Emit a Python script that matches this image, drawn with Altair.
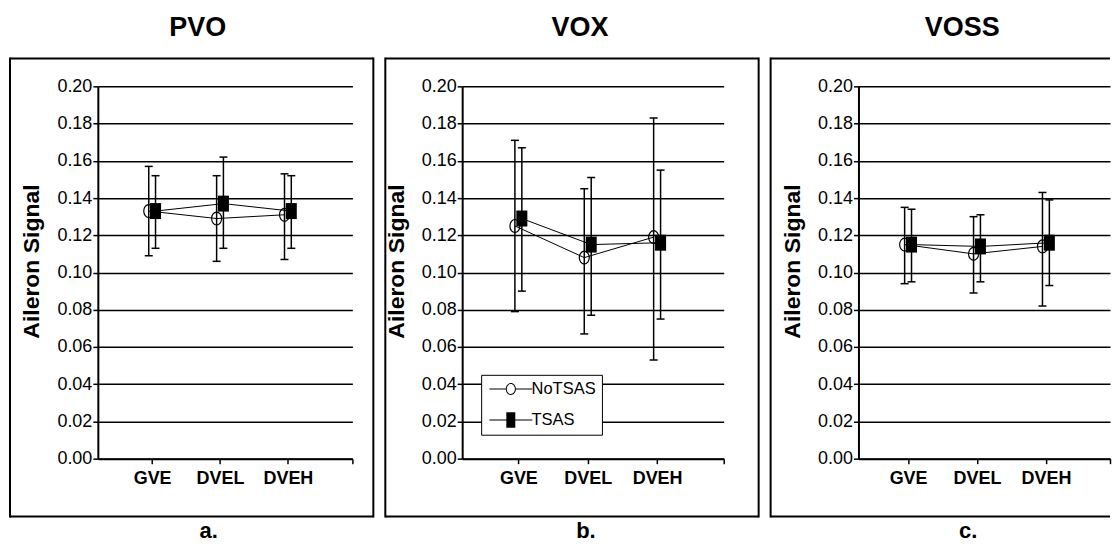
import altair as alt
import pandas as pd

categories = ["GVE", "DVEL", "DVEH"]
series_names = ["NoTSAS", "TSAS"]
panel_titles = ["PVO", "VOX", "VOSS"]
panel_letters = ["a.", "b.", "c."]
y_ticks = [0.00, 0.02, 0.04, 0.06, 0.08, 0.10, 0.12, 0.14, 0.16, 0.18, 0.20]

# PVO
pvo_notsas_mean = [0.133, 0.129, 0.131]
pvo_notsas_low = [0.109, 0.106, 0.107]
pvo_notsas_high = [0.157, 0.152, 0.153]
pvo_tsas_mean = [0.133, 0.137, 0.133]
pvo_tsas_low = [0.113, 0.113, 0.113]
pvo_tsas_high = [0.152, 0.162, 0.152]
# VOX
vox_notsas_mean = [0.125, 0.108, 0.119]
vox_notsas_low = [0.079, 0.067, 0.053]
vox_notsas_high = [0.171, 0.145, 0.183]
vox_tsas_mean = [0.129, 0.115, 0.116]
vox_tsas_low = [0.090, 0.077, 0.075]
vox_tsas_high = [0.167, 0.151, 0.155]
# VOSS
voss_notsas_mean = [0.115, 0.110, 0.114]
voss_notsas_low = [0.094, 0.089, 0.082]
voss_notsas_high = [0.135, 0.130, 0.143]
voss_tsas_mean = [0.115, 0.114, 0.116]
voss_tsas_low = [0.095, 0.095, 0.093]
voss_tsas_high = [0.134, 0.131, 0.139]

FONT = "Liberation Sans, Arial, sans-serif"
H = 373


def make_df(nm, nl, nh, tm, tl, th):
    rows = []
    for i, c in enumerate(categories):
        rows.append(dict(cat=c, idx=i + 1, series=series_names[0], mean=nm[i], low=nl[i], high=nh[i]))
    for i, c in enumerate(categories):
        rows.append(dict(cat=c, idx=i + 1, series=series_names[1], mean=tm[i], low=tl[i], high=th[i]))
    return pd.DataFrame(rows)


label_expr = " : ".join(f"datum.value == {i + 1} ? '{c}'" for i, c in enumerate(categories)) + " : ''"

ELLIPSE = "M0,-1 A0.77,1 0 1,1 0,1 A0.77,1 0 1,1 0,-1 Z"
RECT = "M-0.69,-1 L0.69,-1 L0.69,1 L-0.69,1 Z"
LEG_NO = ("M-1,-0.09 L1.73,-0.09 L1.73,0.09 L-1,0.09 Z "
          "M3.43,-0.09 L6.17,-0.09 L6.17,0.09 L3.43,0.09 Z "
          "M2.58,-1 A0.85,1 0 1,1 2.58,1 A0.85,1 0 1,1 2.58,-1 Z "
          "M2.58,-0.83 A0.68,0.83 0 1,0 2.58,0.83 A0.68,0.83 0 1,0 2.58,-0.83 Z")
LEG_TS = ("M-1,-0.09 L6.17,-0.09 L6.17,0.09 L-1,0.09 Z "
          "M1.83,-1.3 L3.33,-1.3 L3.33,1.3 L1.83,1.3 Z")


def panel(df, title, letter, w, xdom, fl, fr, tdx, ldx, right_side=True, with_legend=False):
    xaxis = alt.Axis(values=[1, 2, 3, xdom[1]], labelExpr=label_expr, title=None, grid=False,
                     domainColor="black", domainWidth=2, tickColor="black", tickWidth=1.5,
                     tickSize=5, labelFont=FONT, labelFontSize=18, labelFontWeight="bold",
                     labelColor="black", labelPadding=6)
    yaxis = alt.Axis(values=y_ticks, format=".2f", title="Aileron Signal", grid=True,
                     gridColor="black", gridWidth=1.5, gridOpacity=1, domainColor="black",
                     domainWidth=2, tickColor="black", tickWidth=1.5, tickSize=5,
                     labelFont=FONT, labelFontSize=18, labelColor="black", labelPadding=1,
                     titleFont=FONT, titleFontSize=23, titleFontWeight="bold", titleColor="black",
                     titleX=-66, titleY=175, titleAngle=270, titleAlign="center",
                     titleBaseline="middle")
    xs = alt.Scale(domain=xdom, nice=False, zero=False)
    ys = alt.Scale(domain=[0, 0.2], nice=False, zero=True)
    X = alt.X("xp:Q", scale=xs, axis=xaxis)
    Ym = alt.Y("mean:Q", scale=ys, axis=yaxis)
    Yl = alt.Y("low:Q", scale=ys, axis=yaxis)
    Yh = alt.Y("high:Q", scale=ys, axis=yaxis)
    base = alt.Chart(df).transform_calculate(
        xp="datum.idx + (datum.series == 'NoTSAS' ? -0.05 : 0.05)")
    lines = base.mark_line(color="black", strokeWidth=1).encode(x=X, y=Ym, detail="series:N")
    bars = base.mark_rule(color="black", strokeWidth=1.5).encode(x=X, y=Yl, y2="high:Q")
    caps_lo = base.mark_tick(orient="horizontal", size=8, thickness=1.5, color="black",
                             opacity=1).encode(x=X, y=Yl)
    caps_hi = base.mark_tick(orient="horizontal", size=8, thickness=1.5, color="black",
                             opacity=1).encode(x=X, y=Yh)
    circles = base.transform_filter("datum.series == 'NoTSAS'").mark_point(
        shape=ELLIPSE, size=169, filled=False, color="black", strokeWidth=1.2, opacity=1
    ).encode(x=X, y=Ym)
    squares = base.transform_filter("datum.series == 'TSAS'").mark_point(
        shape=RECT, size=256, filled=True, color="black", opacity=1
    ).encode(x=X, y=Ym)
    one = pd.DataFrame({"t": [title], "l": [letter]})
    fr_chart = alt.Chart(one)
    top_b = fr_chart.mark_rule(color="black", strokeWidth=2).encode(
        x=alt.value(fl), x2=alt.value(w + fr), y=alt.value(-28))
    bot_b = fr_chart.mark_rule(color="black", strokeWidth=2).encode(
        x=alt.value(fl), x2=alt.value(w + fr), y=alt.value(H + 58))
    left_b = fr_chart.mark_rule(color="black", strokeWidth=2).encode(
        x=alt.value(fl), y=alt.value(-29), y2=alt.value(H + 59))
    frame = [top_b, bot_b, left_b]
    if right_side:
        frame.append(fr_chart.mark_rule(color="black", strokeWidth=2).encode(
            x=alt.value(w + fr), y=alt.value(-29), y2=alt.value(H + 59)))
    ttl = alt.Chart(one).mark_text(font=FONT, fontSize=27, fontWeight="bold", color="black",
                                   align="center", baseline="alphabetic").encode(
        text="t:N", x=alt.value(tdx), y=alt.value(-50))
    let = alt.Chart(one).mark_text(font=FONT, fontSize=22, fontWeight="bold", color="black",
                                   align="center", baseline="alphabetic").encode(
        text="l:N", x=alt.value(ldx), y=alt.value(H + 79))
    layers = frame + [ttl, let, lines, bars, caps_lo, caps_hi, circles, squares]
    if with_legend:
        leg = base.transform_filter("false").mark_point(
            filled=True, color="black", opacity=1, size=144
        ).encode(
            x=X, y=Ym,
            shape=alt.Shape("series:N",
                            scale=alt.Scale(domain=series_names, range=[LEG_NO, LEG_TS]),
                            legend=alt.Legend(title=None, orient="none", legendX=19, legendY=289,
                                              direction="vertical", fillColor="white",
                                              strokeColor="black", padding=6, symbolSize=144,
                                              symbolFillColor="black", symbolStrokeColor="black",
                                              symbolStrokeWidth=0, symbolOpacity=1,
                                              labelFont=FONT, labelFontSize=16.5,
                                              labelColor="black", labelOffset=28,
                                              rowPadding=14)))
        layers.append(leg)
    return alt.layer(*layers).properties(width=w, height=H)


pa = panel(make_df(pvo_notsas_mean, pvo_notsas_low, pvo_notsas_high,
                   pvo_tsas_mean, pvo_tsas_low, pvo_tsas_high),
           panel_titles[0], panel_letters[0], 255, [0.2, 3.95], -88, 21, 100, 111)
pb = panel(make_df(vox_notsas_mean, vox_notsas_low, vox_notsas_high,
                   vox_tsas_mean, vox_tsas_low, vox_tsas_high),
           panel_titles[1], panel_letters[1], 262, [0.19, 3.96], -77, 35, 118, 124,
           with_legend=True)
pc = panel(make_df(voss_notsas_mean, voss_notsas_low, voss_notsas_high,
                   voss_tsas_mean, voss_tsas_low, voss_tsas_high),
           panel_titles[2], panel_letters[2], 252, [0.28, 3.93], -88, 0, 104, 110,
           right_side=False)

chart = alt.hconcat(pa, pb, pc, spacing=8).resolve_scale(
    x="independent", shape="independent"
).resolve_legend(shape="independent").properties(
    padding={"left": 0, "top": 5, "right": 0, "bottom": 0},
    background="white",
).configure_view(stroke="transparent")

chart.save("out.html", embed_options={"renderer": "svg", "actions": False})
